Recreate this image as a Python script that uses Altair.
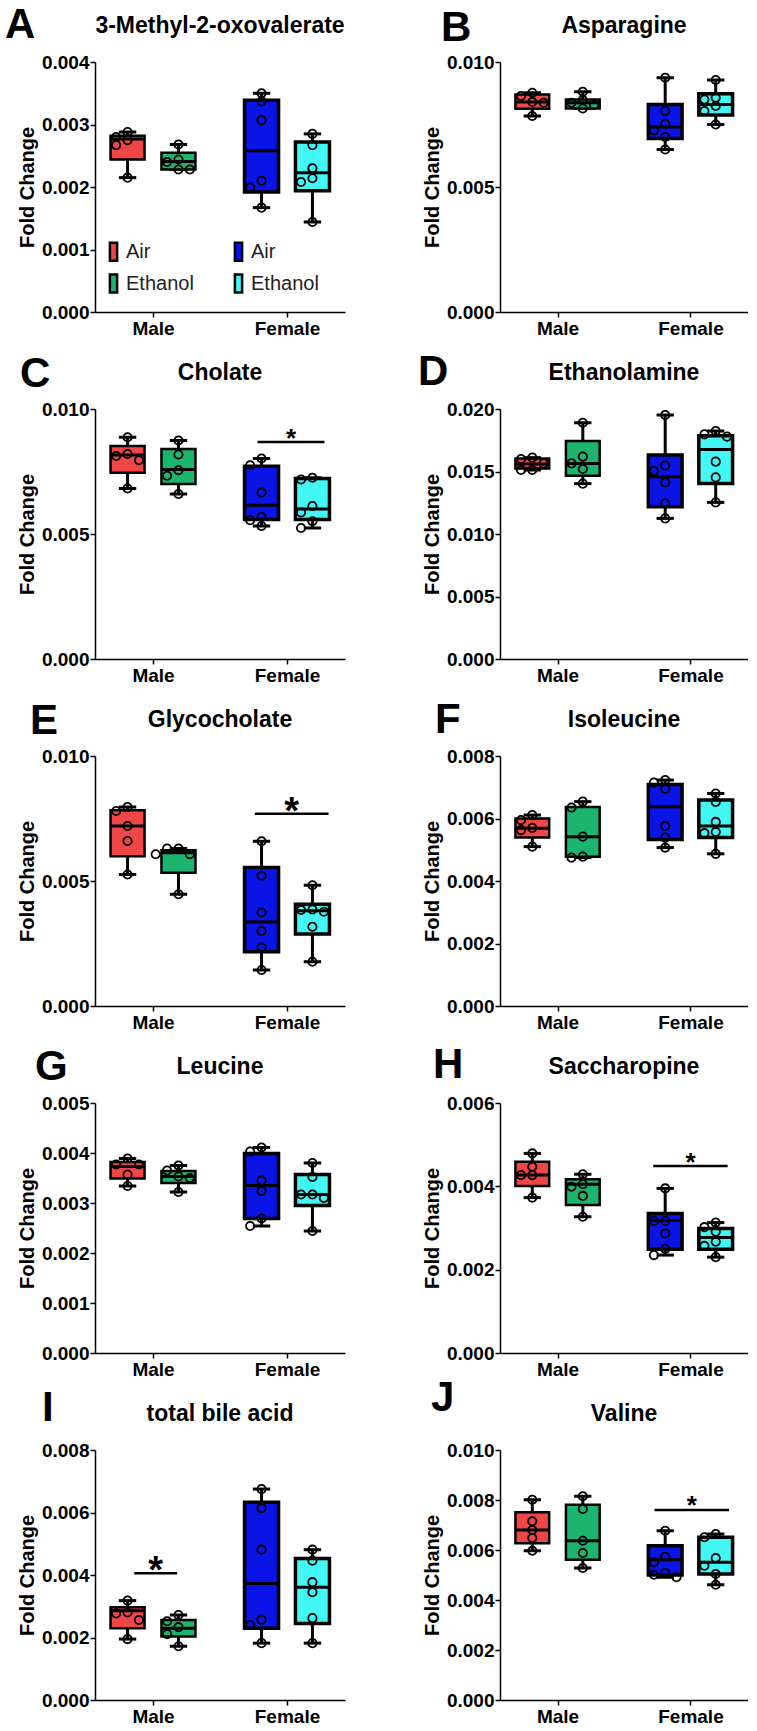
import altair as alt
import pandas as pd

FONT = "Liberation Sans"

LETTERS = ["A", "B", "C", "D", "E", "F", "G", "H", "I", "J"]
TITLES = ["3-Methyl-2-oxovalerate", "Asparagine", "Cholate", "Ethanolamine",
          "Glycocholate", "Isoleucine", "Leucine", "Saccharopine",
          "total bile acid", "Valine"]
Y_MAX = [0.004, 0.010, 0.010, 0.020, 0.010, 0.008, 0.005, 0.006, 0.008, 0.010]
Y_TICKS = [
    [0, 0.001, 0.002, 0.003, 0.004],
    [0, 0.005, 0.010],
    [0, 0.005, 0.010],
    [0, 0.005, 0.010, 0.015, 0.020],
    [0, 0.005, 0.010],
    [0, 0.002, 0.004, 0.006, 0.008],
    [0, 0.001, 0.002, 0.003, 0.004, 0.005],
    [0, 0.002, 0.004, 0.006],
    [0, 0.002, 0.004, 0.006, 0.008],
    [0, 0.002, 0.004, 0.006, 0.008, 0.010],
]
SEXES = ["Male", "Female"]
GROUPS = ["Male Air", "Male Ethanol", "Female Air", "Female Ethanol"]
GROUP_COLORS = ["#F04646", "#1DB46E", "#0A14E6", "#43F7F5"]

# box statistics, per panel, groups in GROUPS order
WHISKER_LOW = [
    [0.00215, 0.00228, 0.00167, 0.00144],
    [0.00784, 0.00814, 0.00650, 0.00750],
    [0.00682, 0.00660, 0.00532, 0.00524],
    [0.01512, 0.01403, 0.01125, 0.01253],
    [0.00526, 0.00447, 0.00144, 0.00177],
    [0.00510, 0.00475, 0.00507, 0.00487],
    [0.00334, 0.00322, 0.00254, 0.00244],
    [0.00373, 0.00327, 0.00235, 0.00230],
    [0.00195, 0.00172, 0.00182, 0.00182],
    [0.00597, 0.00528, 0.00491, 0.00461],
]
BOX_LOW = [
    [0.00244, 0.00228, 0.00192, 0.00194],
    [0.00813, 0.00814, 0.00694, 0.00788],
    [0.00745, 0.00700, 0.00558, 0.00558],
    [0.01525, 0.01467, 0.01219, 0.01405],
    [0.00599, 0.00533, 0.00217, 0.00288],
    [0.00539, 0.00478, 0.00533, 0.00539],
    [0.00349, 0.00340, 0.00269, 0.00295],
    [0.00401, 0.00355, 0.00249, 0.00249],
    [0.00230, 0.00203, 0.00230, 0.00245],
    [0.00627, 0.00561, 0.00500, 0.00504],
]
MEDIAN = [
    [0.00277, 0.00241, 0.00258, 0.00223],
    [0.00840, 0.00837, 0.00740, 0.00830],
    [0.00816, 0.00758, 0.00615, 0.00600],
    [0.01560, 0.01565, 0.01459, 0.01677],
    [0.00720, 0.00613, 0.00336, 0.00381],
    [0.00569, 0.00542, 0.00638, 0.00576],
    [0.00373, 0.00353, 0.00335, 0.00317],
    [0.00427, 0.00405, 0.00318, 0.00277],
    [0.00286, 0.00230, 0.00373, 0.00361],
    [0.00680, 0.00637, 0.00561, 0.00551],
]
BOX_HIGH = [
    [0.00282, 0.00255, 0.00339, 0.00272],
    [0.00870, 0.00850, 0.00830, 0.00873],
    [0.00852, 0.00840, 0.00771, 0.00722],
    [0.01605, 0.01744, 0.01632, 0.01787],
    [0.00783, 0.00623, 0.00554, 0.00407],
    [0.00600, 0.00637, 0.00709, 0.00659],
    [0.00382, 0.00364, 0.00399, 0.00357],
    [0.00459, 0.00417, 0.00335, 0.00299],
    [0.00297, 0.00256, 0.00633, 0.00453],
    [0.00751, 0.00781, 0.00617, 0.00651],
]
WHISKER_HIGH = [
    [0.00288, 0.00268, 0.00350, 0.00285],
    [0.00877, 0.00881, 0.00937, 0.00928],
    [0.00887, 0.00874, 0.00802, 0.00725],
    [0.01611, 0.01890, 0.01952, 0.01824],
    [0.00796, 0.00630, 0.00659, 0.00483],
    [0.00611, 0.00654, 0.00723, 0.00680],
    [0.00389, 0.00375, 0.00411, 0.00380],
    [0.00479, 0.00429, 0.00395, 0.00313],
    [0.00318, 0.00272, 0.00675, 0.00481],
    [0.00801, 0.00815, 0.00677, 0.00664],
]

# individual animals, per panel, groups in GROUPS order
POINTS = [
    [[0.00288, 0.00280, 0.00275, 0.00267, 0.00215],
     [0.00268, 0.00244, 0.00240, 0.00228, 0.00228],
     [0.00350, 0.00337, 0.00307, 0.00210, 0.00199, 0.00167],
     [0.00285, 0.00267, 0.00230, 0.00214, 0.00208, 0.00144]],
    [[0.00877, 0.00864, 0.00840, 0.00837, 0.00784],
     [0.00881, 0.00848, 0.00837, 0.00828, 0.00814],
     [0.00937, 0.00804, 0.00753, 0.00726, 0.00700, 0.00650],
     [0.00928, 0.00857, 0.00850, 0.00824, 0.00804, 0.00750]],
    [[0.00887, 0.00820, 0.00812, 0.00795, 0.00682],
     [0.00874, 0.00818, 0.00755, 0.00733, 0.00660],
     [0.00802, 0.00775, 0.00666, 0.00568, 0.00555, 0.00532],
     [0.00725, 0.00718, 0.00612, 0.00586, 0.00551, 0.00524]],
    [[0.01611, 0.01600, 0.01565, 0.01512, 0.01512],
     [0.01890, 0.01619, 0.01565, 0.01520, 0.01403],
     [0.01952, 0.01547, 0.01504, 0.01413, 0.01245, 0.01125],
     [0.01824, 0.01797, 0.01779, 0.01579, 0.01453, 0.01253]],
    [[0.00796, 0.00780, 0.00720, 0.00660, 0.00526],
     [0.00630, 0.00630, 0.00607, 0.00607, 0.00447],
     [0.00659, 0.00521, 0.00374, 0.00300, 0.00234, 0.00144],
     [0.00483, 0.00386, 0.00384, 0.00377, 0.00317, 0.00177]],
    [[0.00611, 0.00595, 0.00570, 0.00563, 0.00510],
     [0.00654, 0.00635, 0.00542, 0.00478, 0.00475],
     [0.00723, 0.00715, 0.00695, 0.00576, 0.00539, 0.00507],
     [0.00680, 0.00653, 0.00589, 0.00557, 0.00553, 0.00487]],
    [[0.00389, 0.00377, 0.00377, 0.00357, 0.00334],
     [0.00375, 0.00365, 0.00353, 0.00350, 0.00322],
     [0.00411, 0.00403, 0.00345, 0.00324, 0.00269, 0.00254],
     [0.00380, 0.00352, 0.00317, 0.00317, 0.00310, 0.00244]],
    [[0.00479, 0.00447, 0.00427, 0.00427, 0.00373],
     [0.00429, 0.00405, 0.00399, 0.00377, 0.00327],
     [0.00395, 0.00317, 0.00317, 0.00287, 0.00250, 0.00235],
     [0.00313, 0.00302, 0.00291, 0.00267, 0.00257, 0.00230]],
    [[0.00318, 0.00280, 0.00277, 0.00256, 0.00195],
     [0.00272, 0.00252, 0.00233, 0.00211, 0.00172],
     [0.00675, 0.00614, 0.00481, 0.00257, 0.00240, 0.00182],
     [0.00481, 0.00446, 0.00377, 0.00345, 0.00262, 0.00182]],
    [[0.00801, 0.00715, 0.00680, 0.00648, 0.00597],
     [0.00815, 0.00764, 0.00637, 0.00588, 0.00528],
     [0.00677, 0.00573, 0.00551, 0.00508, 0.00501, 0.00491],
     [0.00664, 0.00651, 0.00568, 0.00537, 0.00504, 0.00461]],
]

# significance bars (Air vs Ethanol within a sex)
SIG_PANEL = ["C", "E", "H", "I", "J"]
SIG_SEX = ["Female", "Female", "Female", "Male", "Female"]
SIG_Y = [0.00868, 0.00769, 0.00449, 0.00406, 0.00760]
SIG_LABEL = ["*", "*", "*", "*", "*"]

# ---- layout / style (not data) ----
OFF = 0.19          # treatment offset from sex centre (x units)
HALF = 0.127        # half box width
CAP = 0.065         # half cap width
SLOT = 0.085        # horizontal spacing of overlapping points
X_DOMAIN = [-0.433, 1.433]
PANEL_H = 250
PANEL_W = [250, 248]
LETTER_DX = [-90, -59, -75, -82, -65, -65, -60, -67, -53, -69]
LETTER_DY = [-54, -51, -52, -54, -52, -53, -53, -55, -59, -69]
SIG_SPAN = [(-0.22, 0.28), (-0.24, 0.31), (-0.28, 0.28), (-0.14, 0.18), (-0.27, 0.29)]
STAR_SIZE = [26, 38, 26, 38, 26]
STAR_DY = [5, 10, 5, 10, 4]


def swarm_slots(values, ppu):
    placed, slots = [], []
    for v in values:
        y = v * ppu
        for s in (0, -1, 1, -2, 2, -3, 3):
            if all(ps != s or abs(py - y) >= 8 for py, ps in placed):
                break
        placed.append((y, s))
        slots.append(s)
    return slots


def panel(i, col):
    ymax = Y_MAX[i]
    W = PANEL_W[col]
    ppu = PANEL_H / ymax
    box_rows, pt_rows = [], []
    for g, name in enumerate(GROUPS):
        sex, treat = name.split(" ")
        cx = SEXES.index(sex) + (-OFF if treat == "Air" else OFF)
        box_rows.append(dict(
            group=name, cx=cx, left=cx - HALF, right=cx + HALF,
            capl=cx - CAP, capr=cx + CAP,
            lo=WHISKER_LOW[i][g], q1=BOX_LOW[i][g], med=MEDIAN[i][g],
            q3=BOX_HIGH[i][g], hi=WHISKER_HIGH[i][g],
            sw=2.5 if sex == "Male" else 3.5))
        vals = POINTS[i][g]
        for v, s in zip(vals, swarm_slots(vals, ppu)):
            pt_rows.append(dict(group=name, px=cx + s * SLOT, v=v))
    box = pd.DataFrame(box_rows)
    pts = pd.DataFrame(pt_rows)

    xs = alt.Scale(domain=X_DOMAIN, nice=False, zero=False)
    ys = alt.Scale(domain=[0, ymax], nice=False, zero=True)
    xaxis = alt.Axis(values=[0, 1], title=None, labelPadding=2,
                     labelExpr="datum.value == 0 ? 'Male' : 'Female'")
    yaxis = alt.Axis(values=Y_TICKS[i], format=".3f", title="Fold Change",
                     titlePadding=4, labelPadding=1)

    def X(f):
        return alt.X(f, type="quantitative", scale=xs, axis=xaxis)

    def Y(f):
        return alt.Y(f, type="quantitative", scale=ys, axis=yaxis)

    base = alt.Chart(box)
    whisk = base.mark_rule(color="black", strokeWidth=3).encode(
        x=X("cx"), y=Y("lo"), y2="hi")
    cap_hi = base.mark_rule(color="black", strokeWidth=3).encode(
        x=X("capl"), x2="capr", y=Y("hi"))
    cap_lo = base.mark_rule(color="black", strokeWidth=3).encode(
        x=X("capl"), x2="capr", y=Y("lo"))

    if i == 0:
        legend = alt.Legend(
            title=None, orient="none", legendX=8, legendY=179, columns=2,
            columnPadding=34, rowPadding=3,
            symbolType="M-0.4,-1H0.4V1H-0.4Z", symbolSize=324,
            symbolStrokeColor="black", symbolStrokeWidth=2.5,
            labelFont=FONT, labelFontSize=20, labelFontWeight="normal",
            labelColor="#222222", labelOffset=2,
            labelExpr="split(datum.label, ' ')[1]")
    else:
        legend = None
    rect = base.mark_rect(stroke="black").encode(
        x=X("left"), x2="right", y=Y("q1"), y2="q3",
        fill=alt.Fill("group:N",
                      scale=alt.Scale(domain=GROUPS, range=GROUP_COLORS),
                      legend=legend),
        strokeWidth=alt.StrokeWidth("sw:Q", scale=None))
    med = base.mark_rule(color="black", strokeWidth=3).encode(
        x=X("left"), x2="right", y=Y("med"))
    points = alt.Chart(pts).mark_point(
        shape="circle", filled=False, color="black", strokeWidth=1.8,
        size=70, opacity=1).encode(x=X("px"), y=Y("v"))

    lab = pd.DataFrame({"letter": [LETTERS[i]], "title": [TITLES[i]]})
    letter = alt.Chart(lab).mark_text(
        align="left", baseline="top", font=FONT, fontSize=42,
        fontWeight="bold", color="black").encode(
        text="letter:N", x=alt.value(LETTER_DX[i]), y=alt.value(LETTER_DY[i] - 3))
    title = alt.Chart(lab).mark_text(
        align="center", baseline="middle", font=FONT, fontSize=23,
        fontWeight="bold", color="black").encode(
        text="title:N", x=alt.value(W / 2), y=alt.value(-36))

    layers = [whisk, cap_hi, cap_lo, rect, med, points, letter, title]

    if LETTERS[i] in SIG_PANEL:
        k = SIG_PANEL.index(LETTERS[i])
        c = SEXES.index(SIG_SEX[k])
        sig = pd.DataFrame({"x0": [c + SIG_SPAN[k][0]], "x1": [c + SIG_SPAN[k][1]],
                            "xm": [c + (SIG_SPAN[k][0] + SIG_SPAN[k][1]) / 2],
                            "y": [SIG_Y[k]], "label": [SIG_LABEL[k]]})
        sig_line = alt.Chart(sig).mark_rule(color="black", strokeWidth=2.5).encode(
            x=X("x0"), x2="x1", y=Y("y"))
        sig_star = alt.Chart(sig).mark_text(
            font=FONT, fontSize=STAR_SIZE[k], fontWeight="bold", color="black",
            baseline="alphabetic", dy=STAR_DY[k]).encode(
            x=X("xm"), y=Y("y"), text="label:N")
        layers += [sig_line, sig_star]

    return alt.layer(*layers).properties(width=W, height=PANEL_H)


panels = [panel(i, i % 2) for i in range(10)]

chart = (
    alt.concat(*panels, columns=2, spacing={"row": 97, "column": 155},
               bounds="flush")
    .resolve_scale(x="independent", y="independent", fill="independent")
    .resolve_legend(fill="independent")
    .properties(padding={"left": 5, "top": 4, "right": 0, "bottom": 0},
                background="white")
    .configure(font=FONT)
    .configure_view(strokeWidth=0, stroke=None)
    .configure_axis(
        grid=False, domainColor="black", domainWidth=1.5,
        tickColor="black", tickWidth=1.5, tickSize=5,
        labelFont=FONT, labelFontSize=19, labelFontWeight="bold",
        labelColor="black", titleFont=FONT, titleFontSize=20,
        titleFontWeight="bold", titleColor="black", labelOverlap=False)
)
chart.save("out.html", embed_options={"renderer": "svg", "actions": False})
